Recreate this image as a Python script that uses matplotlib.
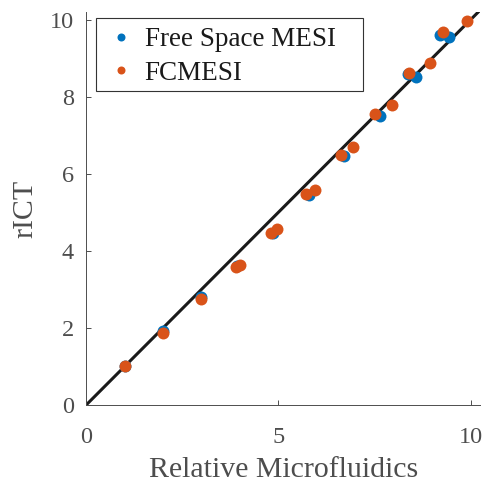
import matplotlib
matplotlib.use("Agg")
import matplotlib.pyplot as plt
from matplotlib.patches import Rectangle

# Data
free_x = [1.0, 1.99, 3.0, 3.93, 4.85, 5.79, 6.72, 7.64, 8.37, 8.57, 9.20, 9.44]
free_y = [1.01, 1.93, 2.80, 3.60, 4.47, 5.44, 6.47, 7.49, 8.58, 8.52, 9.60, 9.54]

fc_x = [1.0, 1.99, 3.0, 3.90, 4.0, 4.81, 4.97, 5.71, 5.96, 6.62, 6.94,
        7.52, 7.96, 8.39, 8.94, 9.29, 9.90]
fc_y = [1.01, 1.87, 2.75, 3.58, 3.64, 4.46, 4.56, 5.47, 5.59, 6.50, 6.69,
        7.56, 7.78, 8.62, 8.88, 9.67, 9.96]

line_xy = [0, 10.3]

x_ticks = [0, 5, 10]
y_ticks = [0, 2, 4, 6, 8, 10]

plt.rcParams['font.family'] = ['Liberation Serif', 'DejaVu Serif']
axis_col = '#4d4d4d'
W, H = 484, 483

fig = plt.figure(figsize=(4.84, 4.83), dpi=100)
ax = fig.add_axes([0.178, 0.1615, 0.814, 0.8135])

ax.plot(line_xy, line_xy, color='#1a1a1a', lw=2.2, zorder=1)
ax.plot(free_x, free_y, 'o', color='#0072BD', ms=8.6, mec='none',
        label='Free Space MESI', zorder=2)
ax.plot(fc_x, fc_y, 'o', color='#D95319', ms=8.6, mec='none',
        label='FCMESI', zorder=3)

ax.set_xlim(0, 10.25)
ax.set_ylim(0, 10.2)
ax.set_xticks(x_ticks)
ax.set_yticks(y_ticks)

for s in ['top', 'right']:
    ax.spines[s].set_visible(False)
for s in ['left', 'bottom']:
    ax.spines[s].set_color(axis_col)
    ax.spines[s].set_linewidth(0.7)

ax.tick_params(direction='in', length=3.5, width=0.7, colors=axis_col,
               labelsize=17.5)
ax.tick_params(axis='x', pad=16)
ax.tick_params(axis='y', pad=9)
ax.set_xlabel('Relative Microfluidics', fontsize=21.5, color=axis_col, labelpad=6)
ax.set_ylabel('rICT', fontsize=21.5, color=axis_col, labelpad=8)

# legend box a bit wider than matplotlib's own, like MATLAB's
box = Rectangle((96 / W, 1 - 91 / H), 267 / W, 73 / H, transform=fig.transFigure,
                facecolor='white', edgecolor='#333333', lw=0.8, zorder=4,
                clip_on=False)
ax.add_patch(box)

leg = ax.legend(loc='upper left', bbox_to_anchor=(96 / W, 1 - 18 / H),
                bbox_transform=fig.transFigure, borderaxespad=0,
                fontsize=19.5, frameon=False, handletextpad=0.3,
                borderpad=0.35, labelspacing=0.3, handlelength=1.15,
                markerscale=0.67)
leg.set_zorder(5)
for t in leg.get_texts():
    t.set_color('#1a1a1a')

fig.savefig('out.png', dpi=100)
